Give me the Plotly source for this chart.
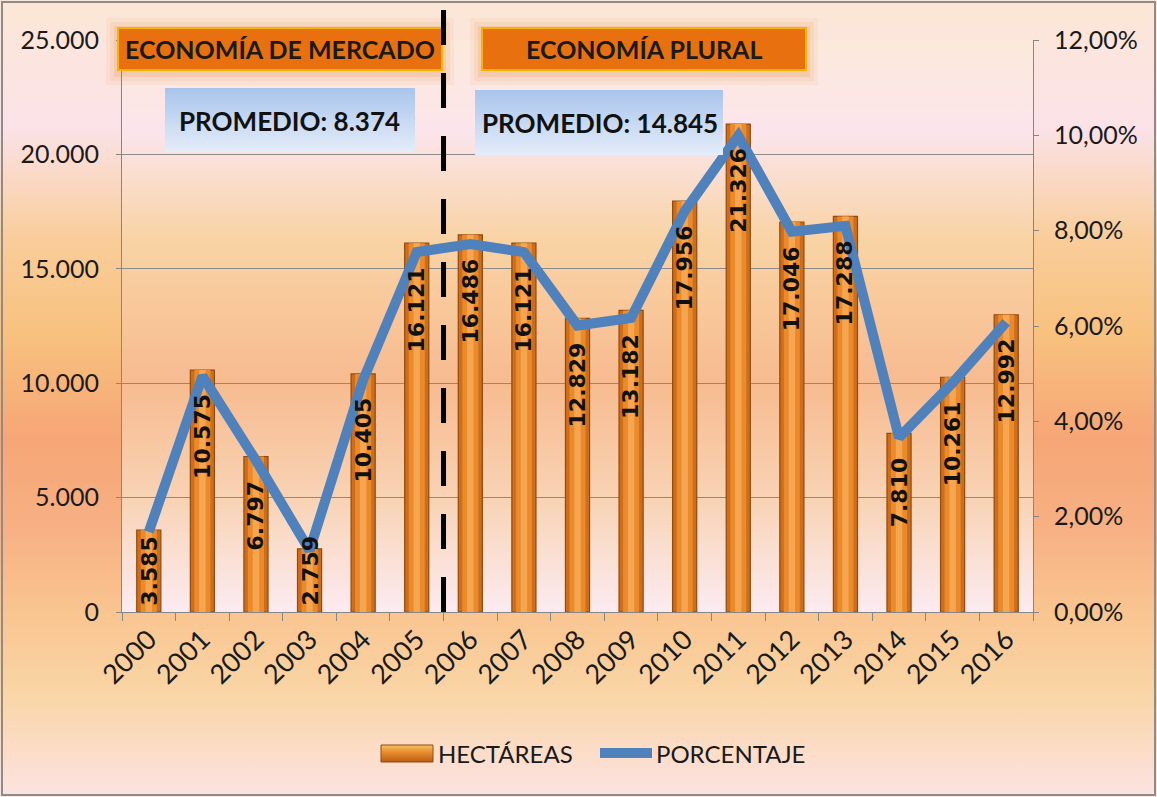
import base64
import plotly.graph_objects as go

# ---------------- data ----------------
years = ["2000", "2001", "2002", "2003", "2004", "2005", "2006", "2007", "2008",
         "2009", "2010", "2011", "2012", "2013", "2014", "2015", "2016"]
hectareas = [3585, 10575, 6797, 2759, 10405, 16121, 16486, 16121, 12829,
             13182, 17956, 21326, 17046, 17288, 7810, 10261, 12992]
porcentaje = [1.68, 4.95, 3.18, 1.29, 4.87, 7.55, 7.72, 7.55, 6.01,
              6.17, 8.41, 9.99, 7.98, 8.10, 3.66, 4.81, 6.08]
left_ticks = [0, 5000, 10000, 15000, 20000, 25000]
right_ticks = [0, 2, 4, 6, 8, 10, 12]
right_tick_labels = ["0,00%", "2,00%", "4,00%", "6,00%", "8,00%", "10,00%", "12,00%"]
period_titles = ["ECONOMÍA DE MERCADO", "ECONOMÍA PLURAL"]
period_avgs = ["PROMEDIO: 8.374", "PROMEDIO: 14.845"]
series_names = ["HECTÁREAS", "PORCENTAJE"]

# ---------------- geometry helpers ----------------
W, H = 1157, 797
L, R, T, B = 122, 124, 40, 185
PW, PH = W - L - R, H - T - B
YMAX = 25000


def px(x):
    return (x - L) / PW


def py(y):
    return (H - B - y) / PH


def grad_uri(stops):
    st = "".join(f'<stop offset="{o}" stop-color="{c}"/>' for o, c in stops)
    svg = ('<svg xmlns="http://www.w3.org/2000/svg" width="100" height="100" '
           'viewBox="0 0 100 100" preserveAspectRatio="none"><defs>'
           f'<linearGradient id="g" x1="0" y1="0" x2="0" y2="1">{st}</linearGradient>'
           '</defs><rect width="100" height="100" fill="url(#g)"/></svg>')
    return "data:image/svg+xml;base64," + base64.b64encode(svg.encode()).decode()


FONT = "Lato, Carlito, Calibri, sans-serif"
LABEL_FONT = "DejaVu Sans, Verdana, sans-serif"
LABEL_SIZE = 22
BAR_COLOR = "#cf6d1a"
LINE_COLOR = "#4f81bd"

outer_bg = grad_uri([(0, "#fbe7d6"), (0.16, "#fbe2e8"), (0.30, "#f9cd9a"),
                     (0.42, "#f8c17e"), (0.55, "#f6a676"), (0.66, "#f7b083"),
                     (0.77, "#f9c590"), (0.87, "#fad5a6"), (1.0, "#fce3e2")])
plot_bg = grad_uri([(0, "#fbe9da"), (0.16, "#fbe5ec"), (0.35, "#f9d3a4"),
                    (0.60, "#f7bb90"), (0.80, "#f8d3b4"), (1.0, "#fcebf1")])
blue_box = grad_uri([(0, "#a9c4ec"), (1.0, "#e4edf9")])
legend_bar = grad_uri([(0, "#f8c060"), (0.45, "#e88a2a"), (1.0, "#b85e16")])

fig = go.Figure()

# bars (layered to imitate the shaded cylinder look)
fig.add_trace(go.Bar(x=years, y=hectareas, width=0.45, name=series_names[0],
                     marker=dict(color=BAR_COLOR, line=dict(color="#8f4c10", width=1.2)),
                     hoverinfo="x+y"))
fig.add_trace(go.Bar(x=years, y=hectareas, width=0.30, showlegend=False,
                     marker=dict(color="#ea8a2a", line=dict(width=0)), hoverinfo="skip"))
fig.add_trace(go.Bar(x=years, y=hectareas, width=0.12, showlegend=False,
                     marker=dict(color="#f6a650", line=dict(width=0)), hoverinfo="skip"))
# percentage line
fig.add_trace(go.Scatter(x=years, y=porcentaje, yaxis="y2", mode="lines",
                         name=series_names[1],
                         line=dict(color=LINE_COLOR, width=10)))

shapes = []
# glow behind orange boxes
for (x0, x1) in [(118, 442), (482, 806)]:
    for g, a in [(12, 0.06), (8, 0.08), (4, 0.12)]:
        shapes.append(dict(type="rect", xref="paper", yref="paper",
                           x0=px(x0 - g), x1=px(x1 + g), y0=py(70 + g + 3), y1=py(28 - g + 2),
                           fillcolor=f"rgba(225,115,25,{a})", line=dict(width=0),
                           layer="above"))
    shapes.append(dict(type="rect", xref="paper", yref="paper",
                       x0=px(x0), x1=px(x1), y0=py(70), y1=py(28),
                       fillcolor="#e8700e", line=dict(color="#f6b400", width=2),
                       layer="above"))
# dashed separator
shapes.append(dict(type="line", xref="x", yref="paper", x0=5.5, x1=5.5,
                   y0=0, y1=py(0), line=dict(color="#000000", width=5, dash="35px,28px"),
                   layer="above"))
# legend swatches (custom legend)
shapes.append(dict(type="rect", xref="paper", yref="paper",
                   x0=px(381), x1=px(433), y0=py(762), y1=py(745),
                   line=dict(color="#8f4c10", width=1), fillcolor="rgba(0,0,0,0)",
                   layer="above"))
shapes.append(dict(type="line", xref="paper", yref="paper",
                   x0=px(600), x1=px(652), y0=py(753), y1=py(753),
                   line=dict(color=LINE_COLOR, width=10), layer="above"))
# outer border
shapes.append(dict(type="rect", xref="paper", yref="paper",
                   x0=px(2), x1=px(W - 2), y0=py(H - 2), y1=py(2),
                   line=dict(color="#8c8c8c", width=2), fillcolor="rgba(0,0,0,0)",
                   layer="above"))

images = [
    dict(source=outer_bg, xref="paper", yref="paper", x=px(0), y=py(0),
         sizex=W / PW, sizey=H / PH, xanchor="left", yanchor="top",
         sizing="stretch", layer="below"),
    dict(source=plot_bg, xref="paper", yref="paper", x=0, y=1, sizex=1, sizey=1,
         xanchor="left", yanchor="top", sizing="stretch", layer="below"),
    dict(source=legend_bar, xref="paper", yref="paper", x=px(381), y=py(745),
         sizex=52 / PW, sizey=17 / PH, xanchor="left", yanchor="top",
         sizing="stretch", layer="above"),
]
for (x0, x1, y0, y1) in [(165, 415, 88, 152), (475, 723, 90, 155)]:
    images.append(dict(source=blue_box, xref="paper", yref="paper", x=px(x0), y=py(y0),
                       sizex=(x1 - x0) / PW, sizey=(y1 - y0) / PH,
                       xanchor="left", yanchor="top", sizing="stretch", layer="above"))

annotations = [
    dict(text=period_titles[0], xref="paper", yref="paper", x=px(280), y=py(49),
         xanchor="center", yanchor="middle", showarrow=False,
         font=dict(family=FONT, size=25, color="#1a1a1a", weight="bold")),
    dict(text=period_titles[1], xref="paper", yref="paper", x=px(644), y=py(49),
         xanchor="center", yanchor="middle", showarrow=False,
         font=dict(family=FONT, size=25, color="#1a1a1a", weight="bold")),
    dict(text=period_avgs[0], xref="paper", yref="paper", x=px(289), y=py(121),
         xanchor="center", yanchor="middle", showarrow=False,
         font=dict(family=FONT, size=26, color="#111111", weight="bold")),
    dict(text=period_avgs[1], xref="paper", yref="paper", x=px(600), y=py(123),
         xanchor="center", yanchor="middle", showarrow=False,
         font=dict(family=FONT, size=26, color="#111111", weight="bold")),
    # legend texts
    dict(text=series_names[0], xref="paper", yref="paper", x=px(436), y=py(753),
         xanchor="left", yanchor="middle", showarrow=False,
         font=dict(family=FONT, size=24, color="#1a1a1a")),
    dict(text=series_names[1], xref="paper", yref="paper", x=px(654), y=py(753),
         xanchor="left", yanchor="middle", showarrow=False,
         font=dict(family=FONT, size=24, color="#1a1a1a")),
]

# vertical value labels inside the bars
for i, v in enumerate(hectareas):
    txt = f"{v:,}".replace(",", ".")
    est_len = (sum(c.isdigit() for c in txt) * 0.70 + 0.38) * LABEL_SIZE
    bar_px = v / YMAX * PH
    if bar_px < est_len + 30:
        a = dict(y=0, yanchor="bottom", yshift=4)
    else:
        a = dict(y=v, yanchor="top", yshift=-22)
    annotations.append(dict(text=txt, xref="x", yref="y", x=i, xanchor="center",
                            textangle=-90, showarrow=False,
                            font=dict(family=LABEL_FONT, size=LABEL_SIZE, color="#111111",
                                      weight="bold"), **a))

fig.update_layout(
    width=W, height=H,
    margin=dict(l=L, r=R, t=T, b=B, pad=0, autoexpand=False),
    paper_bgcolor="rgba(0,0,0,0)", plot_bgcolor="rgba(0,0,0,0)",
    separators=",.",
    barmode="overlay",
    showlegend=False,
    xaxis=dict(type="category", range=[-0.5, 16.5], showgrid=False, automargin=False,
               showline=True, linecolor="#868686", linewidth=1,
               ticks="outside", tickson="boundaries", ticklen=8, tickcolor="#868686",
               tickangle=-45, tickfont=dict(family=FONT, size=27, color="#1a1a1a")),
    yaxis=dict(range=[0, YMAX], tickvals=left_ticks, tickformat=",d", automargin=False,
               showgrid=True, gridcolor="#8a8a8a", gridwidth=1, zeroline=False,
               showline=True, linecolor="#868686", linewidth=1,
               ticks="outside", ticklen=5, tickcolor="#868686", ticklabelstandoff=12,
               tickfont=dict(family=FONT, size=25, color="#1a1a1a")),
    yaxis2=dict(range=[0, 12], overlaying="y", side="right", tickmode="array",
                tickvals=right_ticks, ticktext=right_tick_labels,
                showgrid=False, zeroline=False, automargin=False,
                showline=True, linecolor="#868686", linewidth=1,
                ticks="outside", ticklen=5, tickcolor="#868686", ticklabelstandoff=10,
                tickfont=dict(family=FONT, size=25, color="#1a1a1a")),
    shapes=shapes, images=images, annotations=annotations,
    font=dict(family=FONT),
)

fig.write_html("out.html", config={"displayModeBar": False},
               post_script="document.body.style.margin='0';")
